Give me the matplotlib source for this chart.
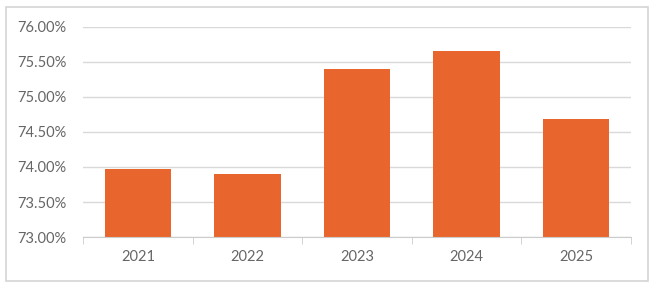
import matplotlib.pyplot as plt
from matplotlib.patches import Rectangle
from matplotlib.ticker import FixedLocator, FuncFormatter
import numpy as np

years = ['2021', '2022', '2023', '2024', '2025']
rates = [73.97, 73.90, 75.39, 75.66, 74.69]
yticks = [73.0, 73.5, 74.0, 74.5, 75.0, 75.5, 76.0]

plt.rcParams['font.family'] = ['Lato', 'DejaVu Sans']

fig = plt.figure(figsize=(6.55, 2.87), dpi=100)
fig.patch.set_facecolor('white')
# light outer frame
fig.patches.append(Rectangle((6 / 655, 6 / 287), 642 / 655, 274 / 287,
                             transform=fig.transFigure, fill=False,
                             edgecolor='#d4d4d4', linewidth=1.2))

ax = fig.add_axes([0.127, 0.174, 0.836, 0.733])
x = np.arange(len(years))
ax.bar(x, [r - 73.0 for r in rates], bottom=73.0, width=0.61, color='#E8662D', zorder=3)

ax.set_xlim(-0.5, len(years) - 0.5)
ax.set_ylim(73.0, 76.0)
ax.set_yticks(yticks)
ax.yaxis.set_major_formatter(FuncFormatter(lambda v, p: f'{v:.2f}%'))
ax.set_xticks(x)
ax.set_xticklabels(years)
ax.xaxis.set_minor_locator(FixedLocator(np.arange(-0.5, len(years), 1.0)))

ax.grid(axis='y', color='#d9d9d9', linewidth=1, zorder=0)
for s in ['top', 'right', 'left']:
    ax.spines[s].set_visible(False)
ax.spines['bottom'].set_color('#cccccc')
ax.spines['bottom'].set_zorder(4)

ax.tick_params(axis='y', length=0, pad=12, labelsize=10.5, labelcolor='#666666')
ax.tick_params(axis='x', which='major', length=0, pad=9, labelsize=10.5, labelcolor='#666666')
ax.tick_params(axis='x', which='minor', length=5, color='#cccccc')

fig.savefig('out.png', dpi=100)
